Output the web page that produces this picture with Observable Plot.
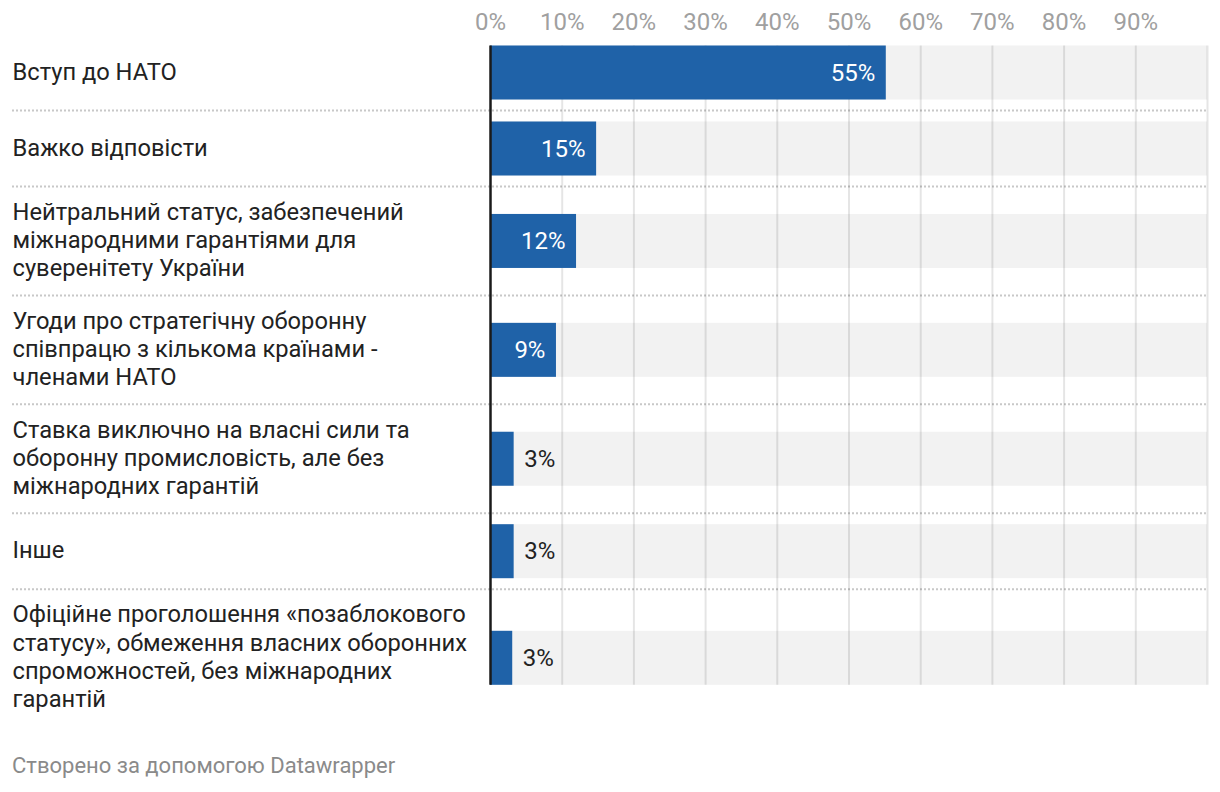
<!DOCTYPE html>
<html><head><meta charset="utf-8">
<script src="https://cdn.jsdelivr.net/npm/d3@7"></script>
<script src="https://cdn.jsdelivr.net/npm/@observablehq/plot@0.6"></script>
<style>
body{margin:0;background:#fff;font-family:Roboto,sans-serif;}
#chart{position:absolute;left:0;top:0;}
#footer{position:absolute;left:12px;top:754px;font-size:22px;line-height:24px;color:#8a8a8a;font-family:Roboto,sans-serif;}
</style></head><body>
<div id="chart"></div>
<div id="footer">Створено за допомогою Datawrapper</div>
<script>
const categories = [
  "Вступ до НАТО",
  "Важко відповісти",
  "Нейтральний статус, забезпечений\nміжнародними гарантіями для\nсуверенітету України",
  "Угоди про стратегічну оборонну\nспівпрацю з кількома країнами -\nчленами НАТО",
  "Ставка виключно на власні сили та\nоборонну промисловість, але без\nміжнародних гарантій",
  "Інше",
  "Офіційне проголошення «позаблокового\nстатусу», обмеження власних оборонних\nспроможностей, без міжнародних\nгарантій"
];
const values = [55.2, 14.8, 12.0, 9.2, 3.3, 3.3, 3.1];
const valueLabels = ["55%", "15%", "12%", "9%", "3%", "3%", "3%"];
const xTicks = [0, 10, 20, 30, 40, 50, 60, 70, 80, 90];
const gridTicks = [10, 20, 30, 40, 50, 60, 70, 80, 90, 100];

// layout derived from the number of label lines
const lineH = 28.3, minRow = 76, barH = 54, labelSize = 23.7;
let acc = 0;
const rows = categories.map((label, i) => {
  const lines = label.split("\n").length;
  const h = Math.max(minRow, lines * lineH + 24);
  const top = acc; acc += h;
  const mid = top + h / 2 + 0.5;
  return {label, value: values[i], vlabel: valueLabels[i], top, mid, b1: mid - barH / 2, b2: mid + barH / 2, i};
});
const total = acc;
const firstTop = rows[0].b1, lastBottom = rows[rows.length - 1].b2;
const inside = rows.filter(d => d.value >= 6);
const outside = rows.filter(d => d.value < 6);

const W = 1220, H = 740, top0 = 34;
const chart = Plot.plot({
  width: W, height: H,
  marginLeft: 12, marginRight: 13, marginTop: top0, marginBottom: H - top0 - total,
  style: {fontFamily: "Roboto, sans-serif", background: "white"},
  x: {domain: [0, 100], range: [490, 1207], axis: null},
  y: {domain: [0, total], range: [top0, top0 + total], axis: null},
  marks: [
    Plot.ruleY(rows.slice(1), {y: "top", stroke: "#c8c8c8", strokeWidth: 2, strokeDasharray: "2,2"}),
    Plot.rect(rows, {x1: 0, x2: 100, y1: "b1", y2: "b2", fill: "#f2f2f2"}),
    Plot.ruleX(gridTicks, {x: d => d, y1: firstTop, y2: lastBottom, stroke: "#000", strokeOpacity: 0.1, strokeWidth: 2}),
    Plot.rect(rows, {x1: 0, x2: "value", y1: "b1", y2: "b2", fill: "#1f62a8"}),
    Plot.ruleX([0], {y1: firstTop, y2: lastBottom, stroke: "#1a1a1a", strokeWidth: 2.5}),
    Plot.axisX({anchor: "top", ticks: xTicks, tickSize: 0, tickPadding: 5, tickFormat: d => d + "%", fill: "#a0a0a0", fontSize: 24, label: null}),
    Plot.text(rows, {text: "label", y: "mid", frameAnchor: "left", textAnchor: "start", lineAnchor: "middle", lineHeight: lineH / labelSize, fontSize: labelSize, dy: -2.5, fill: "#222"}),
    Plot.text(inside, {text: "vlabel", x: "value", y: "mid", dx: -11, textAnchor: "end", lineAnchor: "middle", fontSize: 24, fill: "white"}),
    Plot.text(outside, {text: "vlabel", x: "value", y: "mid", dx: 10, textAnchor: "start", lineAnchor: "middle", fontSize: 24, fill: "#222"})
  ]
});
document.getElementById("chart").append(chart);
</script>
</body></html>
